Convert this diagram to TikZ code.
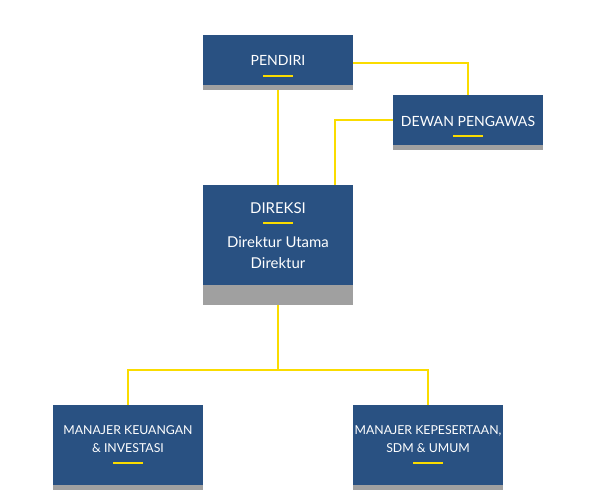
\documentclass[tikz,border=0pt]{standalone}
\usepackage{fontspec}
\setmainfont{Lato}
\usetikzlibrary{positioning}
\definecolor{bleu}{RGB}{41,81,130}
\definecolor{gris}{RGB}{160,160,160}
\definecolor{jaune}{RGB}{250,220,0}
\begin{document}
\begin{tikzpicture}
    \tikzstyle{lien}=[jaune,line width=1.2pt]
    \tikzstyle{trait}=[jaune,line width=0.9pt]
\tikzset{boite/.style={fill=bleu,minimum width=3cm,minimum height=#1,inner sep=0pt,outer sep=0pt},
boite/.default={1cm},
bande/.style={fill=gris,minimum width=3cm,minimum height=#1,inner sep=0pt,outer sep=0pt},
bande/.default={0.1cm},
texte/.style={white,font=\fontsize{8}{10}\selectfont,align=center,inner sep=0pt}}
\useasboundingbox (0,0) rectangle (12,-10);
\node[boite] (pendiri) at (5.56,-1.2){};
\node[bande, below=0pt of pendiri] (pendiri-b){};
\node[boite] (dewan) at (9.36,-2.4){};
\node[bande, below=0pt of dewan] (dewan-b){};
\node[boite=2cm] (direksi) at (5.56,-4.7){};
\node[bande=0.4cm, below=0pt of direksi] (direksi-b){};
\node[boite=1.6cm] (keuangan) at (2.56,-8.9){};
\node[bande, below=0pt of keuangan] (keuangan-b){};
\node[boite=1.6cm] (kepesertaan) at (8.56,-8.9){};
\node[bande, below=0pt of kepesertaan] (kepesertaan-b){};

% textes
\node[texte] (t-pendiri) at (5.56,-1.2){PENDIRI};
\draw[trait] (5.26,-1.52) -- (5.86,-1.52);
\node[texte] (t-dewan) at (9.36,-2.42){DEWAN PENGAWAS};
\draw[trait] (9.06,-2.72) -- (9.66,-2.72);
\node[texte,font=\fontsize{8.5}{10}\selectfont] (t-direksi) at (5.56,-4.16){DIREKSI};
\draw[trait] (5.26,-4.46) -- (5.86,-4.46);
\node[texte,font=\fontsize{8.5}{11.9}\selectfont] (t-direktur) at (5.56,-5.05){Direktur Utama\\Direktur};
\node[texte,font=\fontsize{7}{10.2}\selectfont] (t-keuangan) at (2.56,-8.78){MANAJER KEUANGAN\\\& INVESTASI};
\draw[trait] (2.26,-9.26) -- (2.86,-9.26);
\node[texte,font=\fontsize{7}{10.2}\selectfont] (t-kepesertaan) at (8.56,-8.78){MANAJER KEPESERTAAN,\\SDM \& UMUM};
\draw[trait] (8.26,-9.26) -- (8.86,-9.26);

% liens
\draw[lien] (pendiri-b) -- (direksi);
\draw[lien] ([yshift=-0.06cm]pendiri.east) -| (dewan.north);
\draw[lien] (dewan.west) -| ([xshift=-0.36cm]direksi.north east);
\draw[lien] (direksi-b.south) -- ++(0,-1.3) coordinate (split);
\draw[lien] (keuangan.north) |- (split) -| (kepesertaan.north);

  \end{tikzpicture}
\end{document}
